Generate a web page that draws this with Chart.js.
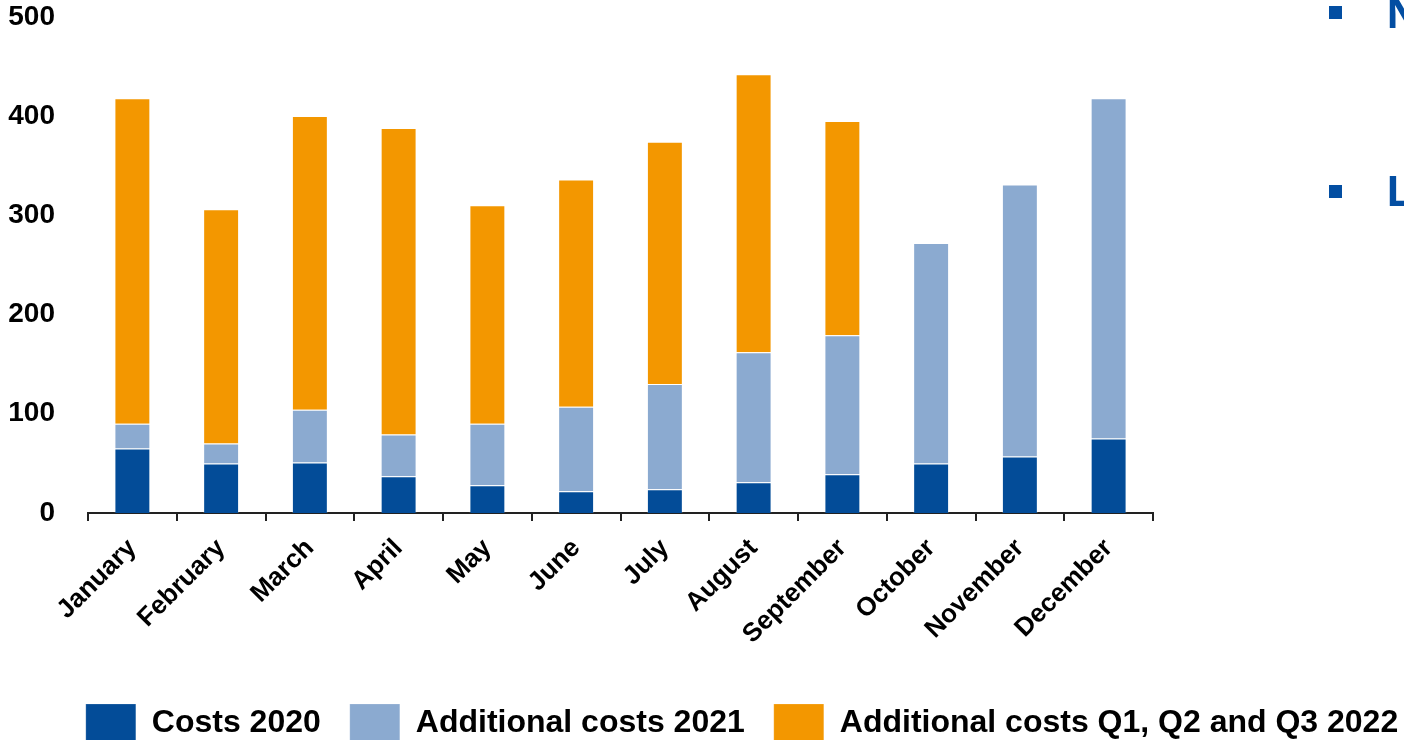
<!DOCTYPE html>
<html>
<head>
<meta charset="utf-8">
<title>Costs per month</title>
<script src="https://cdn.jsdelivr.net/npm/chart.js@4/dist/chart.umd.min.js"></script>
<style>
  html, body { margin: 0; padding: 0; background: #fff; overflow: hidden; }
  #page { position: relative; width: 1404px; height: 740px; overflow: hidden; }
  #wrap { position: absolute; left: 0; top: 0; width: 1484px; height: 752px; }
  .bullet { position: absolute; left: 1329px; width: 13px; height: 13px; background: #034EA2; }
  .side { position: absolute; left: 1386px; font: bold 42px "Open Sans", Arial, sans-serif; line-height: 42px; color: #034EA2; white-space: nowrap; }
</style>
</head>
<body>
<div id="page">
  <div id="wrap"><canvas id="chart" width="1484" height="752"></canvas></div>
  <div class="bullet" style="top:6px"></div>
  <div class="side" style="top:-9px">N</div>
  <div class="bullet" style="top:185px"></div>
  <div class="side" style="top:169px">L</div>
</div>
<script>
// months on the x axis
const months = ['January', 'February', 'March', 'April', 'May', 'June',
  'July', 'August', 'September', 'October', 'November', 'December'];

// stacked pieces
const costs2020 = [65, 50, 51, 37, 28, 22, 24, 31, 39, 50, 57, 75];
const extra2021 = [25, 20, 53, 42, 62, 85, 106, 131, 140, 222, 274, 343];
const extra2022 = [328, 236, 296, 309, 220, 229, 244, 280, 216, 0, 0, 0];

const yTicks = [0, 100, 200, 300, 400, 500];

const font = 'Liberation Sans, Arial, sans-serif';

const ctx = document.getElementById('chart').getContext('2d');

new Chart(ctx, {
  type: 'bar',
  data: {
    labels: months,
    datasets: [
      { label: 'Costs 2020', data: costs2020, backgroundColor: '#034C98' },
      { label: 'Additional costs 2021', data: extra2021, backgroundColor: '#8BAAD0' },
      { label: 'Additional costs Q1, Q2 and Q3 2022', data: extra2022, backgroundColor: '#F39700' }
    ]
  },
  options: {
    responsive: false,
    animation: false,
    datasets: {
      bar: {
        categoryPercentage: 1,
        barPercentage: 0.405,
        borderWidth: 1,
        borderColor: 'rgba(255,255,255,0.18)'
      }
    },
    plugins: {
      tooltip: { enabled: false },
      legend: {
        position: 'bottom',
        labels: {
          boxWidth: 50,
          boxHeight: 38,
          padding: 29,
          color: '#000',
          font: { family: font, size: 32, weight: 'bold' }
        }
      }
    },
    scales: {
      x: {
        stacked: true,
        grid: { display: true, drawOnChartArea: false, drawTicks: true, tickLength: 8, offset: true, color: '#222', lineWidth: 2 },
        border: { display: true, color: '#222', width: 2 },
        ticks: {
          autoSkip: false, minRotation: 45, maxRotation: 45, padding: 12,
          color: '#000', font: { family: font, size: 26, weight: 'bold' }
        },
        afterFit: s => { s.height = 162; }
      },
      y: {
        stacked: true,
        min: 0,
        max: 500,
        afterBuildTicks: s => { s.ticks = yTicks.map(v => ({ value: v })); },
        // hidden tick marks only push the labels away from the plot
        grid: { display: false, drawTicks: true, tickLength: 33 },
        border: { display: false },
        ticks: { padding: 0, color: '#000', font: { family: font, size: 28, weight: 'bold' } },
        afterFit: s => { s.width = 88; }
      },
      yRight: {
        position: 'right',
        grid: { display: false, drawTicks: false },
        border: { display: false },
        ticks: { display: false },
        afterFit: s => { s.width = 331; }
      }
    }
  }
});
</script>
</body>
</html>
